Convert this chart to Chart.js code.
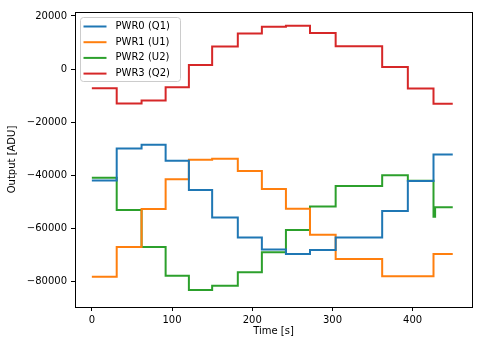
<!DOCTYPE html>
<html>
<head>
<meta charset="utf-8">
<script src="https://cdn.jsdelivr.net/npm/chart.js@4/dist/chart.umd.min.js"></script>
<style>
  html, body { margin: 0; padding: 0; background: #fff; }
  canvas { display: block; }
</style>
</head>
<body>
<canvas id="pwrChart" width="483" height="347"></canvas>
<script>
// step start times [s], last entry is the end of the record
const times = [0, 31, 62, 92, 121, 150, 182, 212, 242, 272, 304, 362, 394, 426, 428, 450]
// output level [ADU] held from each time until the next one
const pwr0 = [-42000, -30000, -28500, -34600, -45600, -56000, -63500, -68000, -69700, -68200, -63500, -53500, -42200, -32200, -32200, -32200]
const pwr1 = [-78300, -67100, -52800, -41500, -34200, -33800, -38400, -45200, -52700, -62500, -71600, -78100, -78100, -69700, -69700, -69700]
const pwr2 = [-41000, -53100, -67100, -77900, -83300, -81700, -76600, -69100, -60700, -51800, -44100, -40000, -42100, -55700, -52100, -52100]
const pwr3 = [-7200, -13000, -11900, -6900, 1500, 8500, 13400, 15900, 16300, 13600, 8600, 800, -7300, -13100, -13100, -13100]

const labels = ["PWR0 (Q1)", "PWR1 (U1)", "PWR2 (U2)", "PWR3 (Q2)"]
const colors = ["#1f77b4", "#ff7f0e", "#2ca02c", "#d62728"]
const xTicks = [0, 100, 200, 300, 400]
const yTicks = [-80000, -60000, -40000, -20000, 0, 20000]

const FONT = "DejaVu Sans"

let datasets = [pwr0, pwr1, pwr2, pwr3].map((vals, i) => ({
    label: labels[i],
    data: vals.map((v, j) => ({x: times[j], y: v})),
    borderColor: colors[i],
    backgroundColor: colors[i],
    borderWidth: 2,
    pointRadius: 0,
    stepped: true,
    fill: false,
}))

// matplotlib style frame + legend inside the axes
const mplPlugin = {
    id: 'mplLook',
    afterDatasetsDraw(chart) {
        const ctx = chart.ctx
        const a = chart.chartArea
        ctx.save()
        ctx.strokeStyle = "#000"
        ctx.lineWidth = 1
        ctx.strokeRect(Math.round(a.left) + 0.5, Math.round(a.top) + 0.5,
                       Math.round(a.right - a.left), Math.round(a.bottom - a.top))

        // legend box
        const bx = a.left + 5.5, by = a.top + 5.5, bw = 100, bh = 64, r = 3
        ctx.beginPath()
        ctx.moveTo(bx + r, by)
        ctx.arcTo(bx + bw, by, bx + bw, by + bh, r)
        ctx.arcTo(bx + bw, by + bh, bx, by + bh, r)
        ctx.arcTo(bx, by + bh, bx, by, r)
        ctx.arcTo(bx, by, bx + bw, by, r)
        ctx.closePath()
        ctx.fillStyle = "rgba(255,255,255,0.8)"
        ctx.fill()
        ctx.strokeStyle = "#cccccc"
        ctx.stroke()

        ctx.font = "10px '" + FONT + "'"
        ctx.textBaseline = "middle"
        ctx.textAlign = "left"
        labels.forEach((lab, i) => {
            const yy = by + 9 + i * 15.7
            ctx.strokeStyle = colors[i]
            ctx.lineWidth = 2
            ctx.beginPath()
            ctx.moveTo(bx + 3, yy)
            ctx.lineTo(bx + 26, yy)
            ctx.stroke()
            ctx.fillStyle = "#000"
            ctx.fillText(lab, bx + 35, yy)
        })
        ctx.restore()
    }
}

new Chart("pwrChart", {
    type: 'line',
    data: { datasets: datasets },
    plugins: [mplPlugin],
    options: {
        responsive: false,
        animation: false,
        devicePixelRatio: 1,
        layout: {
            padding: { left: 0, right: 11, top: 12, bottom: 0 },
        },
        plugins: {
            legend: { display: false },
            tooltip: { enabled: false },
        },
        scales: {
            x: {
                type: 'linear',
                min: -21,
                max: 474,
                afterBuildTicks: (s) => { s.ticks = xTicks.map(v => ({value: v})) },
                afterFit: (s) => { s.height = 40 },
                grid: {
                    drawOnChartArea: false,
                    drawTicks: true,
                    tickLength: 4,
                    tickColor: "#000",
                },
                border: { display: true, color: "#000", width: 1 },
                ticks: {
                    color: "#000",
                    padding: 3,
                    maxRotation: 0,
                    font: { family: FONT, size: 10 },
                },
                title: {
                    display: true,
                    text: "Time [s]",
                    color: "#000",
                    font: { family: FONT, size: 10 },
                    padding: { top: 0, bottom: 10 },
                },
            },
            y: {
                min: -89700,
                max: 21500,
                afterBuildTicks: (s) => { s.ticks = yTicks.map(v => ({value: v})) },
                afterFit: (s) => { s.width = 75 },
                grid: {
                    drawOnChartArea: false,
                    drawTicks: true,
                    tickLength: 4,
                    tickColor: "#000",
                },
                border: { display: true, color: "#000", width: 1 },
                ticks: {
                    color: "#000",
                    padding: 4,
                    font: { family: FONT, size: 10 },
                    callback: (v) => String(v).replace('-', '\u2212'),
                },
                title: {
                    display: true,
                    text: "Output [ADU]",
                    color: "#000",
                    font: { family: FONT, size: 10 },
                    padding: { top: 6, bottom: 0 },
                },
            },
        },
    }
})
</script>
</body>
</html>
